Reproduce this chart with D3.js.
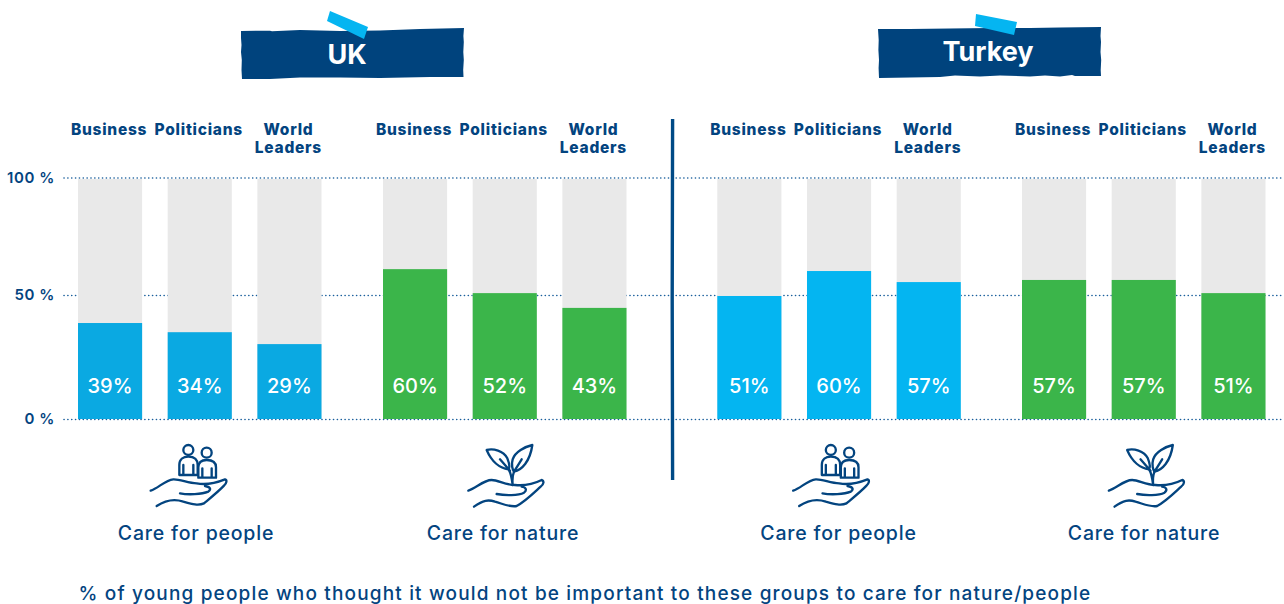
<!DOCTYPE html>
<html lang="en">
<head>
    <meta charset="UTF-8">
    <title>Care for people and nature: UK and Turkey</title>
    <script src="https://d3js.org/d3.v7.min.js"></script>
    <style>
        body { margin: 0; background: #fff; }
        svg { display: block; font-family: Inter, "Open Sans", sans-serif; }
        .axis .domain { display: none; }
    </style>
</head>
<body>
    <div id="chart"></div>

    <script>
        const actors = ["Business", "Politicians", "World Leaders"];
        const groups = ["UK people", "UK nature", "Turkey people", "Turkey nature"];
        const groupLabels = ["Care for people", "Care for nature", "Care for people", "Care for nature"];
        const countries = ["UK", "Turkey"];
        const yTicks = [0, 50, 100];

        // printed on the bars
        const printedValues = [39, 34, 29, 60, 52, 43, 51, 60, 57, 57, 57, 51];
        // bar tops as read against the axis (the drawn height differs a bit from the printed number)
        const barValues = [38.7, 35, 30.2, 61, 50.8, 44.8, 49.6, 60.2, 55.5, 56.4, 56.4, 50.8];

        const footnote = "% of young people who thought it would not be important to these groups to care for nature/people";

        const navy = "#03447f", green = "#3bb54a", grey = "#e9e9e9";
        const groupColors = ["#0aa9e2", green, "#04b5f1", green];

        const svg = d3.select("#chart").append("svg").attr("width", 1284).attr("height", 604);

        const data = printedValues.map((p, i) => ({
            group: groups[Math.floor(i / 3)],
            actor: actors[i % 3],
            printed: p,
            value: barValues[i]
        }));

        const y = d3.scaleLinear().domain(yTicks).range([419, 295, 177.5]);
        const groupX = d3.scaleOrdinal().domain(groups).range([78, 383, 717.3, 1022]);
        const barX = d3.scaleBand().domain(actors).range([0, 243.5]).paddingInner(0.285).paddingOuter(0);
        const color = d3.scaleOrdinal().domain(groups).range(groupColors);

        // axis, ticks run across the whole chart as dotted lines
        const axis = svg.append("g")
            .attr("class", "axis")
            .attr("transform", "translate(64,0)")
            .call(d3.axisLeft(y).tickValues(yTicks).tickSize(-1218).tickPadding(9).tickFormat(d => `${d} %`));
        axis.selectAll("line")
            .attr("stroke", "#1a5f9c")
            .attr("stroke-width", 1.6)
            .attr("stroke-linecap", "round")
            .attr("stroke-dasharray", "0.1 3.75");
        axis.selectAll("text")
            .attr("fill", navy)
            .attr("font-family", "Inter, sans-serif")
            .attr("font-size", 15)
            .attr("font-weight", 600)
            .attr("letter-spacing", 0.6);

        // bars
        const bars = svg.selectAll(".bar")
            .data(data)
            .join("g")
            .attr("class", "bar")
            .attr("transform", d => `translate(${groupX(d.group) + barX(d.actor)},0)`);

        bars.append("rect")
            .attr("y", y(100) + 1.5)
            .attr("width", barX.bandwidth())
            .attr("height", y(0) - y(100) - 1.5)
            .attr("fill", grey);

        bars.append("rect")
            .attr("y", d => y(d.value))
            .attr("width", barX.bandwidth())
            .attr("height", d => y(0) - y(d.value))
            .attr("fill", d => color(d.group));

        bars.append("text")
            .attr("x", barX.bandwidth() / 2)
            .attr("y", 393)
            .attr("text-anchor", "middle")
            .attr("fill", "#fff")
            .attr("font-size", 20)
            .attr("font-weight", 500)
            .text(d => `${d.printed}%`);

        // column headers
        const headers = svg.selectAll(".header")
            .data(data)
            .join("text")
            .attr("class", "header")
            .attr("text-anchor", "middle")
            .attr("fill", navy)
            .attr("font-size", 15.5)
            .attr("font-weight", 800)
            .attr("letter-spacing", 0.75);
        headers.selectAll("tspan")
            .data(d => d.actor.split(" ").map(w => ({ word: w, d: d })))
            .join("tspan")
            .attr("x", t => groupX(t.d.group) + barX(t.d.actor) + barX.bandwidth() / 2 - 1)
            .attr("y", (t, i) => 134.5 + i * 18)
            .text(t => t.word);

        // divider
        svg.append("path")
            .attr("d", "M672.6 119 L672.2 300 L672.6 480")
            .attr("stroke", "#004a86")
            .attr("stroke-width", 3.4)
            .attr("fill", "none");

        // country banners
        const bannerShapes = [
            "M241 31 L270 30.7 L272 31.2 L300 30 L340 31 L380 30.5 L420 29 L464 28 L463.4 36 L463.8 42 L463.3 52 L463.8 60 L463.2 70 L463.5 77 L430 77 L380 78 L340 77.5 L300 77.5 L270 79 L242 79 L241.5 70 L241.8 60 L241 52 L241.5 45 L241 38 Z",
            "M878 29 L910 29 L950 28.5 L990 28 L1030 28 L1060 27.5 L1101 27 L1100.5 36 L1101 42 L1100.5 52 L1101.2 60 L1100.7 70 L1101 76 L1075 76 L1072 75 L1060 76.5 L1045 75.5 L1030 76.5 L1000 75.5 L980 76.5 L955 75.5 L940 77 L910 77.5 L879 78 L878.6 68 L879 60 L878.4 50 L878.7 40 Z"
        ];
        const tapes = [
            "M330 11 L368 27 L364 39 L327 21 Z",
            "M976 14 L1017 22 L1014 35 L975 26 Z"
        ];
        const titleX = [347, 988], titleY = [64, 61];

        const banners = svg.selectAll(".banner").data(countries).join("g").attr("class", "banner");
        banners.append("path").attr("d", (d, i) => bannerShapes[i]).attr("fill", "#00437d");
        banners.append("path").attr("d", (d, i) => tapes[i]).attr("fill", "#05b5f1");
        banners.append("text")
            .attr("x", (d, i) => titleX[i])
            .attr("y", (d, i) => titleY[i])
            .attr("text-anchor", "middle")
            .attr("fill", "#fff")
            .attr("font-size", 27)
            .attr("font-weight", 700)
            .text(d => d);

        // icons, drawn in 3x units
        const peopleIcon = [
            "M62 182 C85 175 105 150 130 148 C150 147 175 160 200 160 C225 165 255 160 285 148 C292 150 290 160 282 167 C265 185 240 205 222 220 C205 228 185 222 160 215 C140 208 115 205 80 228",
            "M150 190 C175 195 215 193 235 185 C245 178 240 170 225 168",
            "M148 135 V105 C148 88 160 80 175 80 C192 80 203 88 203 105 V135 Z M160 105 V135 M190 105 V135",
            "M205 143 V112 C205 96 215 90 230 90 C247 90 258 96 258 112 V143 Z M217 115 V143 M245 115 V143",
            "M160 60 a15 15 0 1 0 30 0 a15 15 0 1 0 -30 0",
            "M215 68 a15 15 0 1 0 30 0 a15 15 0 1 0 -30 0"
        ];
        const natureIcon = [
            "M55 182 C78 175 100 150 125 150 C145 150 165 165 195 165 C225 168 255 160 275 150 C283 152 282 163 272 170 C250 190 225 215 200 228 C180 232 160 222 135 215 C115 208 100 210 72 230",
            "M140 192 C165 197 205 197 222 188 C232 180 228 172 215 170",
            "M188 165 C185 140 180 125 176 118 M188 165 C186 145 188 135 192 125",
            "M110 60 C130 55 160 62 172 85 C180 105 178 115 175 118 C150 115 125 95 110 60 Z M150 88 L180 122",
            "M247 45 C225 50 195 65 188 88 C183 105 188 120 192 125 C215 120 240 95 247 45 Z M192 125 L215 88"
        ];
        const iconPaths = [peopleIcon, natureIcon, peopleIcon, natureIcon];
        const iconX = [130, 450, 772.5, 1090.5];
        const labelX = [196, 503, 838.5, 1144];

        const icons = svg.selectAll(".icon")
            .data(groups)
            .join("g")
            .attr("class", "icon")
            .attr("transform", (d, i) => `translate(${iconX[i]},430) scale(${1 / 3})`);
        icons.selectAll("path")
            .data((d, i) => iconPaths[i])
            .join("path")
            .attr("d", d => d)
            .attr("fill", "none")
            .attr("stroke", navy)
            .attr("stroke-width", 7)
            .attr("stroke-linecap", "round")
            .attr("stroke-linejoin", "round");

        svg.selectAll(".group-label")
            .data(groupLabels)
            .join("text")
            .attr("class", "group-label")
            .attr("x", (d, i) => labelX[i])
            .attr("y", 540)
            .attr("text-anchor", "middle")
            .attr("fill", navy)
            .attr("font-size", 19.5)
            .attr("font-weight", 500)
            .attr("letter-spacing", 0.8)
            .text(d => d);

        svg.append("text")
            .attr("x", 78.5)
            .attr("y", 600)
            .attr("fill", navy)
            .attr("font-size", 19)
            .attr("font-weight", 500)
            .attr("letter-spacing", 1.16)
            .text(footnote);
    </script>
</body>
</html>
